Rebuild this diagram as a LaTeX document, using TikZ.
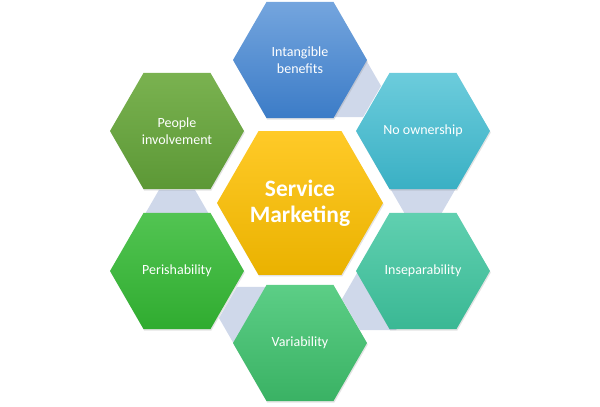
\documentclass[tikz,border=0pt]{standalone}
\usepackage{fontspec}
\setmainfont{Carlito}
\usetikzlibrary{shapes.geometric,shadows}
\definecolor{linkc}{RGB}{207,216,234}
\definecolor{blueT}{RGB}{116,165,222}
\definecolor{blueB}{RGB}{60,124,199}
\definecolor{yelT}{RGB}{255,202,40}
\definecolor{yelB}{RGB}{234,178,0}
\definecolor{tealT}{RGB}{108,204,220}
\definecolor{tealB}{RGB}{58,176,196}
\definecolor{mintT}{RGB}{96,208,176}
\definecolor{mintB}{RGB}{58,184,148}
\definecolor{grnT}{RGB}{92,206,134}
\definecolor{grnB}{RGB}{58,178,100}
\definecolor{vivT}{RGB}{82,196,82}
\definecolor{vivB}{RGB}{48,172,48}
\definecolor{oliT}{RGB}{122,178,80}
\definecolor{oliB}{RGB}{92,152,54}
\tikzset{
  hexbase/.style={regular polygon, regular polygon sides=6, inner sep=0pt, outer sep=0pt,
    draw=none, text=white, align=center},
  hexo/.style={hexbase, minimum size=134pt, font=\fontsize{14}{17}\selectfont,
    drop shadow={opacity=0.22, shadow xshift=0.8pt, shadow yshift=-1.6pt}},
  hexc/.style={hexbase, minimum size=166pt, font=\fontsize{23.5}{26}\selectfont\bfseries,
    drop shadow={opacity=0.22, shadow xshift=0.8pt, shadow yshift=-1.6pt}},
  hexl/.style={hexbase, minimum size=72pt, fill=linkc}
}
\begin{document}
\begin{tikzpicture}[x=1pt,y=-1pt]
\useasboundingbox (0,0) rectangle (600,407);
% connector hexagons (behind), five of them
\foreach \g/\nm in {300/l1,240/l2,180/l3,0/l5,60/l6}{
  \node[hexl] (\nm) at ({300+124.5*cos(\g+8.8)},{202-124.5*sin(\g+8.8)}) {};
}
% outer hexagons
\node[hexo, top color=blueT, bottom color=blueB] (intang) at (300,60) {Intangible\\benefits};
\node[hexo, top color=tealT, bottom color=tealB] (owner) at (423,131) {No ownership};
\node[hexo, top color=mintT, bottom color=mintB] (insep) at (423,271) {Inseparability};
\node[hexo, top color=grnT, bottom color=grnB] (vari) at (300,343) {Variability};
\node[hexo, top color=vivT, bottom color=vivB] (perish) at (177,271) {Perishability};
\node[hexo, top color=oliT, bottom color=oliB] (people) at (177,131) {People\\involvement};
% centre
\node[hexc, top color=yelT, bottom color=yelB] (centre) at (300,203) {Service\\Marketing};
\end{tikzpicture}
\end{document}
